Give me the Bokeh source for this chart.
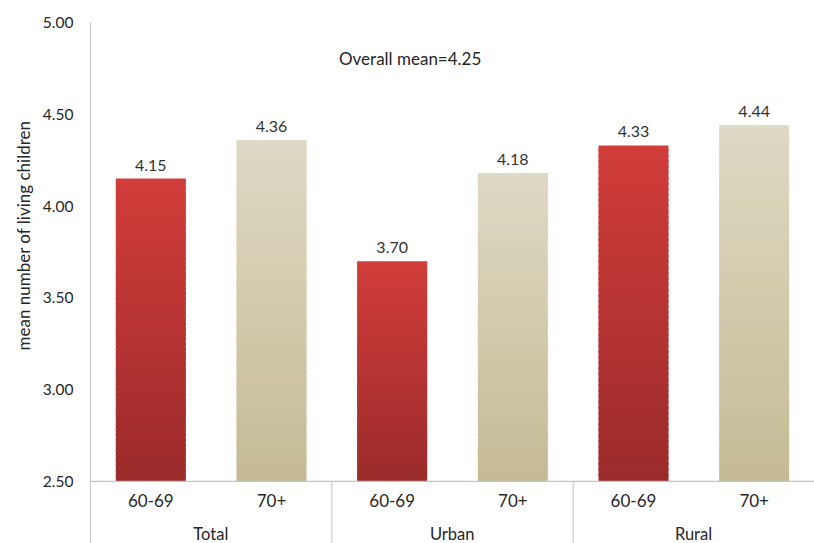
import numpy as np
from bokeh.plotting import figure
from bokeh.models import FactorRange, Range1d, ColumnDataSource, FixedTicker, PrintfTickFormatter, Span, Title
from bokeh.core.properties import value
from bokeh.embed import file_html
from bokeh.resources import INLINE

groups = ["Total", "Urban", "Rural"]
ages = ["60-69", "70+"]
values_6069 = [4.15, 3.70, 4.33]
values_70 = [4.36, 4.18, 4.44]
overall_mean = 4.25
y_ticks = [2.5, 3.0, 3.5, 4.0, 4.5, 5.0]
y_base = 2.5
y_title = "mean number of living children"

FONT = "Lato"
TXT = "#262626"
factors = [(g, a) for g in groups for a in ages]
vals = []
for a, b in zip(values_6069, values_70):
    vals += [a, b]

y_start = 2.162
p = figure(width=814, height=543, output_backend="svg", toolbar_location=None,
           x_range=FactorRange(factors=factors, group_padding=0, range_padding=0),
           y_range=Range1d(y_start, 5.0),
           min_border_left=90, min_border_right=0, min_border_top=22, min_border_bottom=0)
p.xaxis.visible = False
p.xgrid.visible = False
p.ygrid.visible = False
p.outline_line_color = None
p.background_fill_color = "white"

ax = p.yaxis[0]
ax.ticker = FixedTicker(ticks=y_ticks)
ax.formatter = PrintfTickFormatter(format="%.2f")
ax.major_tick_line_color = None
ax.minor_tick_line_color = None
ax.axis_line_color = "#c8c8c8"
ax.major_label_text_font = FONT
ax.major_label_text_font_size = "15.5px"
ax.major_label_text_color = TXT
ax.major_label_standoff = 11

p.add_layout(Title(text=y_title, align="left", offset=193, text_font=FONT,
                   text_font_size="17px", text_font_style="normal", text_color=TXT,
                   standoff=12), "left")

# gradient bars via stacked slices
N = 60
red_top = np.array([0xd1, 0x3d, 0x3a]); red_bot = np.array([0x9b, 0x2b, 0x2b])
bei_top = np.array([0xde, 0xd9, 0xc4]); bei_bot = np.array([0xc4, 0xbb, 0x95])
xs, bots, tops, cols = [], [], [], []
for f, v in zip(factors, vals):
    top_c, bot_c = (red_top, red_bot) if f[1] == ages[0] else (bei_top, bei_bot)
    for k in range(N):
        t = (k + 0.5) / N
        c = bot_c + (top_c - bot_c) * t
        xs.append(f)
        bots.append(y_base + (v - y_base) * k / N)
        tops.append(min(v, y_base + (v - y_base) * (k + 1) / N + 0.012))
        cols.append("#%02x%02x%02x" % tuple(int(round(x)) for x in c))

src = ColumnDataSource(dict(x=xs, bottom=bots, top=tops, color=cols))
p.vbar(x="x", bottom="bottom", top="top", width=0.58, source=src,
       fill_color="color", line_color=None)

# value labels
lab = ColumnDataSource(dict(x=factors, y=vals, t=["%.2f" % v for v in vals]))
p.text(x="x", y="y", text="t", source=lab, text_align="center", text_baseline="bottom",
       y_offset=-8, text_font=value(FONT), text_font_size="16px", text_color="#333333")

# x axis base line
p.add_layout(Span(location=y_base, dimension="width", line_color="#c4c4c4", line_width=1.2))

# group separators below axis
n_sub = len(ages)
sep_x = [n_sub * i for i in range(1, len(groups))]
p.segment(x0=sep_x, x1=sep_x, y0=[y_base] * len(sep_x), y1=[2.0] * len(sep_x),
          line_color="#c4c4c4", line_width=1)

# category labels
cat_src = ColumnDataSource(dict(x=factors, t=[f[1] for f in factors]))
p.text(x="x", y=2.397, text="t", source=cat_src, text_align="center", text_baseline="middle",
       text_font=value(FONT), text_font_size="17px", text_color=TXT)
grp_src = ColumnDataSource(dict(x=[(g, ages[0]) for g in groups], t=groups))
p.text(x="x", y=2.212, text="t", source=grp_src, text_align="center", text_baseline="middle",
       x_offset=60,
       text_font=value(FONT), text_font_size="16.5px", text_color=TXT)

# overall mean annotation
p.text(x=[("Urban", ages[0])], y=[4.804], text=["Overall mean=%.2f" % overall_mean],
       text_align="center", text_baseline="middle", x_offset=18,
       text_font=value(FONT), text_font_size="17px", text_color=TXT)

open("out.html", "w").write(file_html(p, INLINE))
